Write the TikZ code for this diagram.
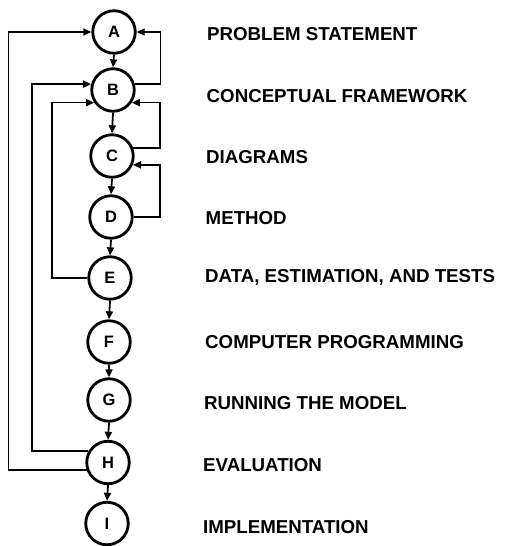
\documentclass[tikz,border=0pt]{standalone}
\usepackage{fontspec}
\setmainfont{Liberation Sans}
\usetikzlibrary{arrows.meta}
\begin{document}
\begin{tikzpicture}[x=1pt,y=-1pt,
 stage/.style={circle,draw,line width=2.8pt,minimum size=42.5pt,inner sep=0pt,font=\fontsize{16.5}{19}\selectfont\bfseries},
 lab/.style={anchor=base west,inner sep=0pt,font=\fontsize{18.7}{22}\selectfont\bfseries},
 arr/.style={line width=1.8pt,-{Triangle[length=8pt,width=7pt]}},
 fb/.style={line width=1.6pt,-{Triangle[length=8pt,width=7pt]}}]
\useasboundingbox (0,0) rectangle (509,546);
\node[stage] (A) at (114,32) {A};
\node[stage] (B) at (113,90) {B};
\node[stage] (C) at (112,156) {C};
\node[stage] (D) at (111,217) {D};
\node[stage] (E) at (110,278) {E};
\node[stage] (F) at (109,342) {F};
\node[stage] (G) at (109,400) {G};
\node[stage] (H) at (108,462.5) {H};
\node[stage] (I) at (107,523.5) {I};

\node[lab] (tA) at (207,40.6) {PROBLEM STATEMENT};
\node[lab] (tB) at (206.5,102.6) {CONCEPTUAL FRAMEWORK};
\node[lab] (tC) at (206,163.6) {DIAGRAMS};
\node[lab] (tD) at (205.5,224.6) {METHOD};
\node[lab] (tE) at (205,282.1) {DATA, ESTIMATION, AND TESTS};
\node[lab] (tF) at (205,348.1) {COMPUTER PROGRAMMING};
\node[lab] (tG) at (204,409.1) {RUNNING THE MODEL};
\node[lab] (tH) at (203,471.6) {EVALUATION};
\node[lab] (tI) at (203,533.6) {IMPLEMENTATION};

\draw[arr] (A.south) -- (B.north);
\draw[arr] (B.south) -- (C.north);
\draw[arr] (C.south) -- (D.north);
\draw[arr] (D.south) -- (E.north);
\draw[arr] (E.south) -- (F.north);
\draw[arr] (F.south) -- (G.north);
\draw[arr] (G.south) -- (H.north);
\draw[arr] (H.south) -- (I.north);

% right feedback loops
\draw[fb] (B.15) -| ([xshift=24pt]A.east) -- (A.east);
\draw[fb] (C.20) -| ([xshift=28pt]B.-34) -- (B.-34);
\draw[fb] (D.east) -| ([xshift=27pt]C.-23) -- (C.-23);

% left feedback loops
\draw[fb] (H.199) -| ([xshift=-83pt]A.west) -- (A.west);
\draw[fb] (H.150) -| ([xshift=-59pt]B.165) -- (B.165);
\draw[fb] (E.west) -| ([xshift=-42pt]B.214) -- (B.214);
\end{tikzpicture}
\end{document}
